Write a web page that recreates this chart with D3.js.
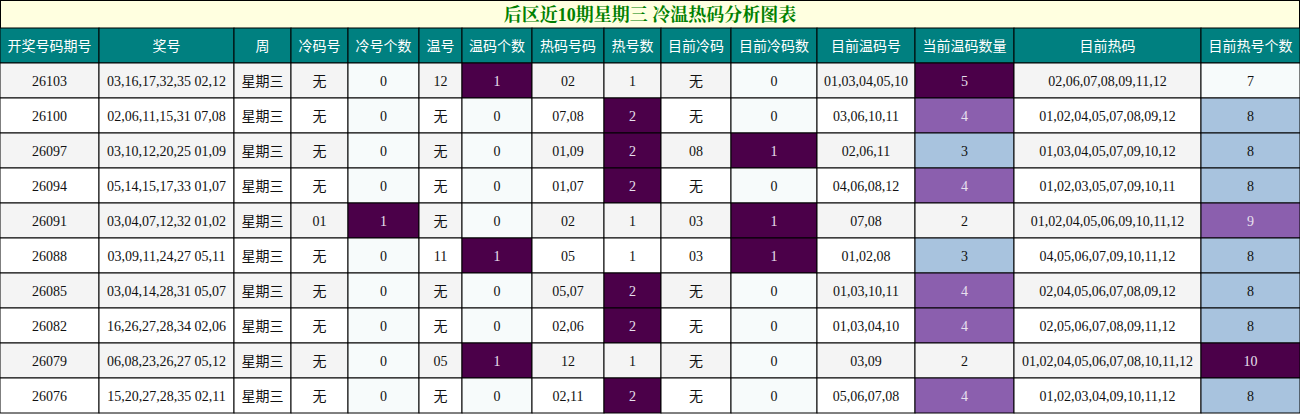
<!DOCTYPE html>
<html><head><meta charset="utf-8">
<script src="https://cdn.jsdelivr.net/npm/d3@7"></script>
<style>body{margin:0;background:#fff}</style></head>
<body><svg id="c" width="1300" height="414"></svg>
<script>
const title = "后区近10期星期三 冷温热码分析图表";
const headers = ["开奖号码期号","奖号","周","冷码号","冷号个数","温号","温码个数","热码号码","热号数","目前冷码","目前冷码数","目前温码号","当前温码数量","目前热码","目前热号个数"];
const colWidths = [99,135,57,57,71,43,70,72,57,70,86,98,99,187,99];
const issues = ["26103","26100","26097","26094","26091","26088","26085","26082","26079","26076"];
const draws = ["03,16,17,32,35 02,12","02,06,11,15,31 07,08","03,10,12,20,25 01,09","05,14,15,17,33 01,07","03,04,07,12,32 01,02","03,09,11,24,27 05,11","03,04,14,28,31 05,07","16,26,27,28,34 02,06","06,08,23,26,27 05,12","15,20,27,28,35 02,11"];
const weekday = Array(10).fill("星期三");
const coldNums = ["无","无","无","无","01","无","无","无","无","无"];
const coldCount = [0,0,0,0,1,0,0,0,0,0];
const warmNums = ["12","无","无","无","无","11","无","无","05","无"];
const warmCount = [1,0,0,0,0,1,0,0,1,0];
const hotNums = ["02","07,08","01,09","01,07","02","05","05,07","02,06","12","02,11"];
const hotCount = [1,2,2,2,1,1,2,2,1,2];
const curCold = ["无","无","08","无","03","03","无","无","无","无"];
const curColdCount = [0,0,1,0,1,1,0,0,0,0];
const curWarm = ["01,03,04,05,10","03,06,10,11","02,06,11","04,06,08,12","07,08","01,02,08","01,03,10,11","01,03,04,10","03,09","05,06,07,08"];
const curWarmCount = [5,4,3,4,2,3,4,4,2,4];
const curHot = ["02,06,07,08,09,11,12","01,02,04,05,07,08,09,12","01,03,04,05,07,09,10,12","01,02,03,05,07,09,10,11","01,02,04,05,06,09,10,11,12","04,05,06,07,09,10,11,12","02,04,05,06,07,08,09,12","02,05,06,07,08,09,11,12","01,02,04,05,06,07,08,10,11,12","01,02,03,04,09,10,11,12"];
const curHotCount = [7,8,8,8,9,8,8,8,10,8];

const columns = [issues,draws,weekday,coldNums,coldCount,warmNums,warmCount,hotNums,hotCount,curCold,curColdCount,curWarm,curWarmCount,curHot,curHotCount];
const DARK="#4b0049", MID="#8b5fae", LIGHT="#a8c3de";
function fill(ci,v,ri){
  if(ci===4||ci===6||ci===10) return v===1?DARK:null;
  if(ci===8) return v===2?DARK:null;
  if(ci===12) return v===5?DARK:v===4?MID:v===3?LIGHT:null;
  if(ci===14) return v===10?DARK:v===9?MID:v===8?LIGHT:null;
  return null;
}
const countCols=new Set([4,6,10,14]);
const svg=d3.select("#c");
const W=1300, titleH=28, headH=35, rowH=35;
const edges=[0]; colWidths.forEach(w=>edges.push(edges[edges.length-1]+w));
const x=d3.scaleLinear().domain([0,W]).range([0,W]);
const y=d3.scaleBand().domain(d3.range(10)).range([titleH+headH,titleH+headH+rowH*10]);
const font='"Liberation Serif","Times New Roman","Noto Serif CJK SC","Noto Sans CJK SC",serif';
svg.append("rect").attr("x",0.5).attr("y",0.5).attr("width",W-1).attr("height",titleH).attr("fill","#ffffe0").attr("stroke","#000");
svg.append("text").attr("x",W/2).attr("y",21).attr("text-anchor","middle").attr("fill","#008000").attr("font-weight","bold").attr("font-size",18).attr("font-family",font).text(title);
headers.forEach((h,i)=>{
  svg.append("rect").attr("x",x(edges[i])).attr("y",titleH).attr("width",colWidths[i]).attr("height",headH).attr("fill","#008080").attr("stroke","#000");
  svg.append("text").attr("x",x(edges[i])+colWidths[i]/2).attr("y",titleH+headH/2+5).attr("text-anchor","middle").attr("fill","#fff").attr("font-size",14).attr("font-family",'"Noto Sans CJK SC",sans-serif').text(h);
});
columns.forEach((col,ci)=>{
  col.forEach((v,ri)=>{
    const f=fill(ci,v,ri);
    let bg=f|| (countCols.has(ci)?"#f7fbfb":(ri%2===0?"#f4f4f4":"#ffffff"));
    svg.append("rect").attr("x",x(edges[ci])).attr("y",y(ri)).attr("width",colWidths[ci]).attr("height",y.bandwidth()).attr("fill",bg).attr("stroke","#000");
    const s=String(v); const cjk=/[\u4e00-\u9fff]/.test(s);
    svg.append("text").attr("x",x(edges[ci])+colWidths[ci]/2).attr("y",y(ri)+rowH/2+5).attr("text-anchor","middle")
      .attr("fill",f&&f!==LIGHT?"#e8e0ee":"#111").attr("font-size",cjk?14:14)
      .attr("font-family",cjk?'"Noto Sans CJK SC",sans-serif':font).text(s);
  });
});
</script></body></html>
